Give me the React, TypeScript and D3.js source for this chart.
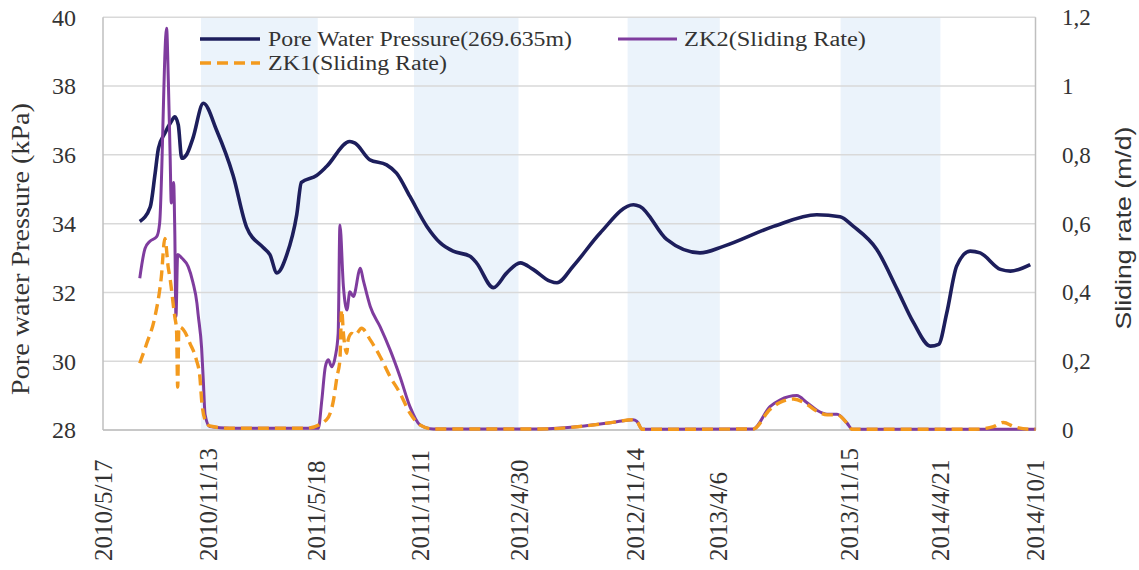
import * as d3 from "d3";

// Pore water pressure (kPa), left axis
const pwpDates = [
  "2010-07-19", "2010-08-06", "2010-08-14", "2010-08-20", "2010-08-31", "2010-09-11", "2010-09-17",
  "2010-09-23", "2010-09-29", "2010-10-07", "2010-10-18", "2010-11-05", "2010-11-28", "2010-12-26",
  "2011-01-18", "2011-02-16", "2011-02-27", "2011-03-11", "2011-03-28", "2011-04-14", "2011-04-22",
  "2011-05-18", "2011-06-04", "2011-07-14", "2011-07-23", "2011-08-17", "2011-09-15", "2011-10-02",
  "2011-10-25", "2011-11-23", "2011-12-16", "2012-01-07", "2012-02-05", "2012-02-16", "2012-03-16",
  "2012-04-08", "2012-05-01", "2012-05-23", "2012-06-21", "2012-07-03", "2012-07-31", "2012-09-15",
  "2012-11-11", "2012-11-22", "2013-01-07", "2013-03-05", "2013-04-14", "2013-07-09", "2013-09-21",
  "2013-10-31", "2013-11-23", "2014-01-02", "2014-02-06", "2014-03-06", "2014-04-04", "2014-04-18",
  "2014-05-02", "2014-05-19", "2014-06-11", "2014-06-28", "2014-08-02", "2014-08-19", "2014-09-22",
];
const pwpValues = [
  34.06, 34.49, 35.42, 36.19, 36.63, 36.97, 37.11,
  36.87, 35.9, 36.0, 36.48, 37.5, 36.7, 35.4,
  33.9, 33.3, 33.1, 32.57, 33.1, 34.26, 35.2,
  35.4, 35.66, 36.39, 36.34, 35.86, 35.71, 35.47,
  34.79, 33.92, 33.44, 33.2, 33.05, 32.86, 32.14,
  32.57, 32.86, 32.67, 32.33, 32.28, 32.77, 33.73,
  34.55, 34.5, 33.54, 33.15, 33.34, 33.92, 34.26,
  34.2, 33.92, 33.25, 32.09, 31.12, 30.44, 30.49,
  31.41, 32.77, 33.2, 33.15, 32.67, 32.62, 32.81,
];

// ZK2 sliding rate (m/d), right axis
const zk2Dates = [
  "2010-07-19", "2010-07-28", "2010-08-05", "2010-08-17", "2010-08-22", "2010-09-03", "2010-09-06",
  "2010-09-09", "2010-09-11", "2010-09-15", "2010-09-17", "2010-09-19", "2010-09-22", "2010-09-29",
  "2010-10-10", "2010-10-18", "2010-10-25", "2010-10-27", "2010-11-02", "2010-11-05", "2010-11-08",
  "2010-11-16", "2010-12-20", "2011-05-21", "2011-05-27", "2011-06-02", "2011-06-07", "2011-06-13",
  "2011-06-19", "2011-06-24", "2011-06-27", "2011-07-03", "2011-07-09", "2011-07-14", "2011-07-20",
  "2011-08-01", "2011-08-06", "2011-08-18", "2011-09-04", "2011-09-21", "2011-10-08", "2011-10-25",
  "2011-11-11", "2011-12-04", "2012-06-04", "2012-08-11", "2012-10-06", "2012-11-10", "2012-11-17",
  "2012-11-26", "2013-06-04", "2013-07-03", "2013-07-20", "2013-08-18", "2013-09-04", "2013-09-21",
  "2013-10-09", "2013-10-26", "2013-11-12", "2013-11-21", "2014-10-01",
];
const zk2Rates = [
  0.441, 0.528, 0.548, 0.562, 0.6, 1.168, 1.013,
  0.8, 0.66, 0.72, 0.58, 0.33, 0.51, 0.5,
  0.475, 0.43, 0.368, 0.336, 0.238, 0.14, 0.044,
  0.01, 0.005, 0.005, 0.087, 0.184, 0.204, 0.184,
  0.213, 0.281, 0.596, 0.417, 0.349, 0.402, 0.388,
  0.47, 0.436, 0.359, 0.3, 0.233, 0.155, 0.068,
  0.015, 0.003, 0.003, 0.01, 0.022, 0.03, 0.025,
  0.002, 0.003, 0.068, 0.087, 0.1, 0.08, 0.058,
  0.046, 0.046, 0.02, 0.002, 0.002,
];

// ZK1 sliding rate (m/d), right axis
const zk1Dates = [
  "2010-07-19", "2010-07-31", "2010-08-14", "2010-08-25", "2010-08-31", "2010-09-06", "2010-09-09",
  "2010-09-12", "2010-09-14", "2010-09-17", "2010-09-20", "2010-09-22", "2010-09-24", "2010-10-04",
  "2010-10-13", "2010-10-24", "2010-10-30", "2010-11-02", "2010-11-08", "2010-11-16", "2010-12-20",
  "2011-05-01", "2011-06-04", "2011-06-16", "2011-06-22", "2011-06-27", "2011-06-30", "2011-07-03",
  "2011-07-09", "2011-07-11", "2011-07-17", "2011-07-23", "2011-08-03", "2011-08-18", "2011-09-04",
  "2011-09-21", "2011-10-08", "2011-10-25", "2011-11-11", "2011-12-04", "2012-06-04", "2012-08-11",
  "2012-10-06", "2012-11-10", "2012-11-17", "2012-11-26", "2013-06-04", "2013-07-03", "2013-07-20",
  "2013-08-12", "2013-09-04", "2013-09-21", "2013-10-09", "2013-10-26", "2013-11-12", "2013-11-21",
  "2014-06-20", "2014-07-21", "2014-08-07", "2014-08-25", "2014-09-25", "2014-10-01",
];
const zk1Rates = [
  0.194, 0.252, 0.329, 0.446, 0.557, 0.47, 0.44,
  0.4, 0.37, 0.33, 0.29, 0.125, 0.3, 0.286,
  0.252, 0.204, 0.155, 0.087, 0.029, 0.012, 0.005,
  0.005, 0.03, 0.087, 0.155, 0.204, 0.349, 0.281,
  0.223, 0.262, 0.281, 0.276, 0.296, 0.262, 0.213,
  0.155, 0.107, 0.049, 0.015, 0.003, 0.003, 0.01,
  0.022, 0.03, 0.025, 0.002, 0.003, 0.06, 0.08,
  0.09, 0.075, 0.055, 0.044, 0.044, 0.02, 0.002,
  0.002, 0.01, 0.022, 0.01, 0.002, 0.002,
];

const tickDates = [
  "2010-05-17", "2010-11-13", "2011-05-18", "2011-11-11", "2012-04-30",
  "2012-11-14", "2013-04-06", "2013-11-15", "2014-04-21", "2014-10-01",
];
const bandStarts = ["2010-11-01", "2011-11-01", "2012-11-01", "2013-11-01"];
const bandEnds = ["2011-05-20", "2012-04-28", "2013-04-08", "2014-04-21"];
const pressureTicks = [28, 30, 32, 34, 36, 38, 40];
const rateTicks = [0, 0.2, 0.4, 0.6, 0.8, 1, 1.2];

const parse = d3.timeParse("%Y-%m-%d");
const fmtDate = d3.timeFormat("%Y/%-m/%-d");
const fmtRate = (v: number) => String(+v.toFixed(1)).replace(".", ",");

const W = 1139;
const H = 570;
const left = 103;
const right = 1035.5;
const top = 17.3;
const bottom = 430;

const serif = "'Liberation Serif', 'Times New Roman', serif";
const sans = "'Liberation Sans', Arial, sans-serif";
const textColor = "#333";
const navy = "#1d1e5c";
const purple = "#7f3c9e";
const orange = "#f39a1e";

export default function App() {
  const x = d3.scaleTime().domain([parse("2010-05-17")!, parse("2014-10-01")!]).range([left, right]);
  const yL = d3.scaleLinear().domain([28, 40]).range([bottom, top]);
  const yR = d3.scaleLinear().domain([0, 1.2]).range([bottom, top]);

  const pwp = pwpDates.map((d, i) => ({ d: parse(d)!, v: pwpValues[i] }));
  const zk2 = zk2Dates.map((d, i) => ({ d: parse(d)!, v: zk2Rates[i] }));
  const zk1 = zk1Dates.map((d, i) => ({ d: parse(d)!, v: zk1Rates[i] }));

  const pwpLine = d3
    .line<{ d: Date; v: number }>()
    .x((p) => x(p.d))
    .y((p) => yL(p.v))
    .curve(d3.curveMonotoneX);
  const rateLine = d3
    .line<{ d: Date; v: number }>()
    .x((p) => x(p.d))
    .y((p) => yR(p.v))
    .curve(d3.curveMonotoneX);

  return (
    <svg
      width={W}
      height={H}
      viewBox={`0 0 ${W} ${H}`}
      style={{ position: "absolute", left: 0, top: 0, background: "#fff" }}
    >
      {/* dry-season bands */}
      {bandStarts.map((s, i) => (
        <rect
          key={s}
          x={x(parse(s)!)}
          y={top}
          width={x(parse(bandEnds[i])!) - x(parse(s)!)}
          height={bottom - top}
          fill="#ebf3fb"
        />
      ))}
      {/* grid */}
      {pressureTicks.map((t) => (
        <line key={t} x1={left} x2={right} y1={yL(t)} y2={yL(t)} stroke="#d9d9d9" strokeWidth={1.5} />
      ))}
      <line x1={left} x2={left} y1={top} y2={bottom} stroke="#bfbfbf" strokeWidth={1.5} />
      <line x1={right} x2={right} y1={top} y2={bottom} stroke="#bfbfbf" strokeWidth={1.5} />
      <line x1={left} x2={right} y1={bottom} y2={bottom} stroke="#bfbfbf" strokeWidth={1.5} />

      {/* series */}
      <path d={pwpLine(pwp)!} fill="none" stroke={navy} strokeWidth={3.6} strokeLinejoin="round" />
      <path d={rateLine(zk2)!} fill="none" stroke={purple} strokeWidth={3} strokeLinejoin="round" />
      <path
        d={rateLine(zk1)!}
        fill="none"
        stroke={orange}
        strokeWidth={3.4}
        strokeDasharray="11,6"
        strokeLinejoin="round"
      />

      {/* left axis */}
      {pressureTicks.map((t) => (
        <text key={t} x={76} y={yL(t)} dy="0.35em" textAnchor="end" fontFamily={serif} fontSize={24} fill={textColor}>
          {t}
        </text>
      ))}
      <text
        transform={`translate(29,249) rotate(-90)`}
        textAnchor="middle"
        fontFamily={serif}
        fontSize={26}
        textLength={292}
        lengthAdjust="spacingAndGlyphs"
        fill={textColor}
      >
        Pore water Pressure (kPa)
      </text>

      {/* right axis */}
      {rateTicks.map((t) => (
        <text key={t} x={1062} y={yR(t)} dy="0.35em" fontFamily={serif} fontSize={23} fill={textColor}>
          {fmtRate(t)}
        </text>
      ))}
      <text
        transform={`translate(1131,228) rotate(-90)`}
        textAnchor="middle"
        fontFamily={sans}
        fontSize={22}
        textLength={203}
        lengthAdjust="spacingAndGlyphs"
        fill={textColor}
      >
        Sliding rate (m/d)
      </text>

      {/* x axis */}
      {tickDates.map((t) => (
        <text
          key={t}
          transform={`translate(${x(parse(t)!)},561) rotate(-90)`}
          dy="0.35em"
          fontFamily={serif}
          fontSize={25}
          fill={textColor}
        >
          {fmtDate(parse(t)!)}
        </text>
      ))}

      {/* legend */}
      <line x1={200} x2={260} y1={39} y2={39} stroke={navy} strokeWidth={3.6} />
      <text x={268} y={46} fontFamily={serif} fontSize={20} textLength={304} lengthAdjust="spacingAndGlyphs" fill={textColor}>
        Pore Water Pressure(269.635m)
      </text>
      <line x1={618} x2={677} y1={39} y2={39} stroke={purple} strokeWidth={3} />
      <text x={684} y={46} fontFamily={serif} fontSize={20} textLength={182} lengthAdjust="spacingAndGlyphs" fill={textColor}>
        ZK2(Sliding Rate)
      </text>
      <line x1={200} x2={260} y1={63} y2={63} stroke={orange} strokeWidth={3.4} strokeDasharray="11,6" />
      <text x={268} y={70} fontFamily={serif} fontSize={20} textLength={179} lengthAdjust="spacingAndGlyphs" fill={textColor}>
        ZK1(Sliding Rate)
      </text>
    </svg>
  );
}
